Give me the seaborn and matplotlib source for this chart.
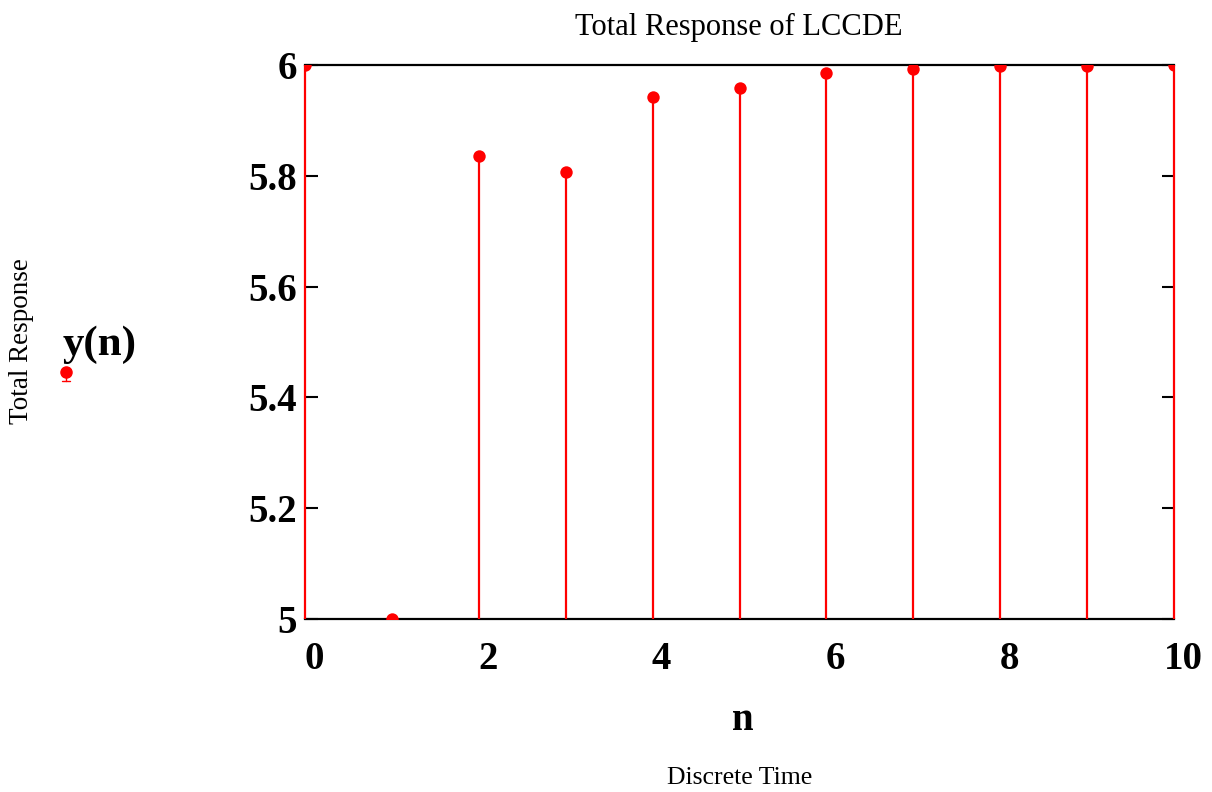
import matplotlib
matplotlib.use("Agg")
import matplotlib.pyplot as plt
import matplotlib.transforms as mtransforms
from matplotlib.lines import Line2D
import seaborn as sns
import pandas as pd

n_vals = [0, 1, 2, 3, 4, 5, 6, 7, 8, 9, 10]
y_vals = [6.0, 5.0, 5.836, 5.807, 5.942, 5.958, 5.986, 5.993, 5.998, 5.999, 6.0]
y_ticks = [5.0, 5.2, 5.4, 5.6, 5.8, 6.0]
y_tick_labels = ["5", "5.2", "5.4", "5.6", "5.8", "6"]
x_ticks = [0, 2, 4, 6, 8, 10]
x_tick_labels = ["0", "2", "4", "6", "8", "10"]

sns.set_theme(style="white")
plt.rcParams['font.family'] = ['Liberation Serif', 'DejaVu Serif']
plt.rcParams['text.color'] = 'black'
plt.rcParams['xtick.color'] = 'black'
plt.rcParams['ytick.color'] = 'black'

df = pd.DataFrame({"n": n_vals, "y": y_vals})

fig = plt.figure(figsize=(12.12, 7.92), dpi=100)
ax = fig.add_axes([305/1212, 1-619/792, (1174-305)/1212, (619-65)/792])

ax.vlines(df["n"], 5.0, df["y"], colors="#ff0000", linewidth=1.6, zorder=3, clip_on=False)
sns.scatterplot(data=df, x="n", y="y", ax=ax, color="#ff0000", s=80,
                edgecolor="#ff0000", linewidth=0, zorder=4, legend=False)

ax.set_xlim(0, 10)
ax.set_ylim(5.0, 6.0)
ax.set_xticks(x_ticks)
ax.set_xticklabels(x_tick_labels, fontsize=28, fontweight="bold", color="black")
ax.set_yticks(y_ticks)
ax.set_yticklabels(y_tick_labels, fontsize=28, fontweight="bold", color="black")
ax.tick_params(axis="x", length=0, pad=16)
ax.tick_params(axis="y", direction="in", length=9, width=1.5, color="black",
               left=True, right=True, pad=6)
offset = mtransforms.ScaledTranslation(9/100, 0, fig.dpi_scale_trans)
for lab in ax.get_xticklabels():
    lab.set_transform(lab.get_transform() + offset)

for side in ["left", "right"]:
    ax.spines[side].set_visible(False)
for side in ["top", "bottom"]:
    ax.spines[side].set_visible(True)
    ax.spines[side].set_color("black")
    ax.spines[side].set_linewidth(1.6)

ax.set_xlabel("")
ax.set_ylabel("")

fig.text(739/1212, 1-27/792, "Total Response of LCCDE", ha="center", va="center", fontsize=22)
fig.text(743/1212, 1-721/792, "n", ha="center", va="center", fontsize=28, fontweight="bold")
fig.text(740/1212, 1-778/792, "Discrete Time", ha="center", va="center", fontsize=18.5)
fig.text(21/1212, 1-341/792, "Total Response", ha="center", va="center", fontsize=19.5, rotation=90)
fig.text(100/1212, 1-345/792, "y(n)", ha="center", va="center", fontsize=31, fontweight="bold")
fig.add_artist(Line2D([66/1212], [1-372/792], marker="o", color="#ff0000",
                      markersize=8, transform=fig.transFigure))
fig.add_artist(Line2D([66/1212, 66/1212], [1-372/792, 1-381/792], color="#ff0000",
                      linewidth=1, transform=fig.transFigure))
fig.add_artist(Line2D([62/1212, 70/1212], [1-381/792, 1-381/792], color="#ff0000",
                      linewidth=1, transform=fig.transFigure))

fig.savefig("out.png", dpi=100)
